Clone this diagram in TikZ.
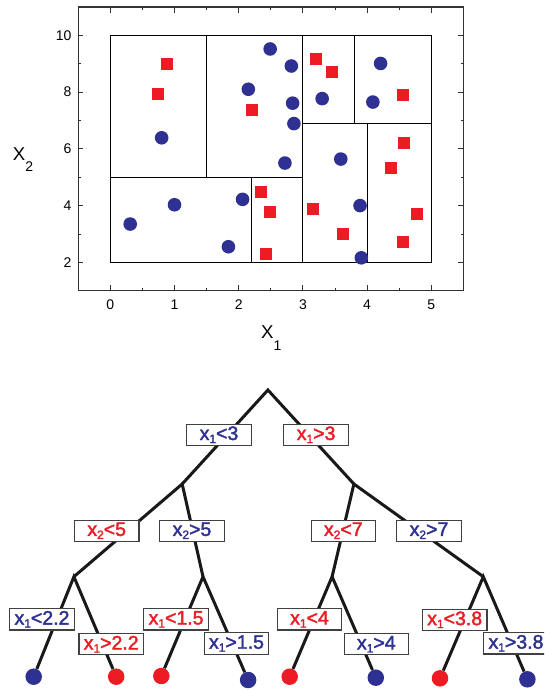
\documentclass[tikz,border=0pt]{standalone}
\usepackage{fontspec}
\setmainfont{Liberation Sans}
\newfontfamily\condfont[FakeBold=2]{Liberation Sans}
\usetikzlibrary{arrows.meta, positioning, calc}

\definecolor{dotblue}{RGB}{46,49,146}
\definecolor{dotred}{RGB}{237,28,36}

% x with a small lowered index
\newcommand{\xsub}[1]{x\raisebox{-3pt}{\fontsize{12}{12}\selectfont #1}}
\newcommand{\axsub}[1]{X\raisebox{-11.7pt}{\fontsize{14}{14}\selectfont #1}}

\begin{document}
\begin{tikzpicture}[
    x=1pt, y=-1pt,
    cond/.style={draw=black!75, fill=white, line width=1.1pt, minimum width=64.5pt,
                 minimum height=21.3pt, inner sep=0pt, font=\condfont\fontsize{19.5}{20}\selectfont},
    branch/.style={line width=3pt, color=black!90},
    leaf/.style={circle, minimum size=16.5pt, inner sep=0pt},
    part/.style={line width=1pt, color=black},
    tickmark/.style={line width=0.9pt, color=black!80},
    ticklabel/.style={inner sep=0pt, font=\fontsize{14}{14}\selectfont},
    axistitle/.style={inner sep=0pt, font=\fontsize{18.6}{20}\selectfont},
]
\useasboundingbox (0,0) rectangle (544,690);
\clip (0,0) rectangle (544,690);

% ---------- scatter plot ----------
\begin{scope}[shift={(110.3,319.1)}, x=64.2pt, y=28.375pt]
  \draw[line width=1.1pt, black!80] (-0.5,1) rectangle (5.5,11);
  \foreach \x in {0,...,5} {
    \draw[tickmark] (\x,1) -- ++(0,6pt);
    \draw[tickmark] (\x,11) -- ++(0,-6pt);
    \node[ticklabel, anchor=north, yshift=-8.5pt] (xt\x) at (\x,1) {\x};
  }
  \foreach \x in {0.5,1.5,...,4.5} {
    \draw[tickmark] (\x,1) -- ++(0,3pt);
    \draw[tickmark] (\x,11) -- ++(0,-3pt);
  }
  \foreach \y in {2,4,...,10} {
    \draw[tickmark] (-0.5,\y) -- ++(5pt,0);
    \draw[tickmark] (5.5,\y) -- ++(-5pt,0);
    \node[ticklabel, anchor=east, xshift=-6.5pt] (yt\y) at (-0.5,\y) {\y};
  }
  \foreach \y in {3,5,7,9} {
    \draw[tickmark] (-0.5,\y) -- ++(2.5pt,0);
    \draw[tickmark] (5.5,\y) -- ++(-2.5pt,0);
  }

  % regions
  \draw[part] (0,2) rectangle (5,10);
  \draw[part] (3,2) -- (3,10);
  \draw[part] (0,5) -- (3,5);
  \draw[part] (1.5,5) -- (1.5,10);
  \draw[part] (2.2,2) -- (2.2,5);
  \draw[part] (3,6.9) -- (5,6.9);
  \draw[part] (3.8,6.9) -- (3.8,10);
  \draw[part] (4,2) -- (4,6.9);

  % samples
  \foreach \px/\py in {0.88/8.98, 0.74/7.94, 2.20/7.36, 3.21/9.15, 3.45/8.70,
                       4.56/7.90, 4.57/6.19, 4.37/5.32, 4.77/3.71, 4.56/2.73,
                       3.63/3.01, 3.16/3.88, 2.35/4.48, 2.48/3.78, 2.42/2.30}
    \fill[dotred] ([shift={(-6pt,-6pt)}]\px,\py) rectangle ++(12pt,12pt);
  \foreach \px/\py in {0.80/6.39, 2.49/9.52, 2.82/8.92, 2.15/8.10, 2.84/7.61,
                       2.86/6.89, 2.72/5.50, 3.30/7.77, 4.21/9.01, 4.09/7.65,
                       3.59/5.64, 3.89/4.00, 3.91/2.16, 0.31/3.35, 1.00/4.03,
                       2.06/4.22, 1.84/2.55}
    \fill[dotblue] (\px,\py) circle[radius=6.8pt];
\end{scope}

\node[axistitle, anchor=base west] (xtitle) at (261,338.3) {\axsub{1}};
\node[axistitle, anchor=base west] (ytitle) at (12.7,160) {\axsub{2}};

% ---------- decision tree ----------
\node[leaf, fill=dotblue] (lf1) at (33.7,676.7) {};
\node[leaf, fill=dotred]  (lf2) at (116.2,676.7) {};
\node[leaf, fill=dotred]  (lf3) at (161.3,676) {};
\node[leaf, fill=dotblue] (lf4) at (248.1,680) {};
\node[leaf, fill=dotred]  (lf5) at (289.7,676.7) {};
\node[leaf, fill=dotblue] (lf6) at (375.8,677.7) {};
\node[leaf, fill=dotred]  (lf7) at (440,678.3) {};
\node[leaf, fill=dotblue] (lf8) at (527.4,679.3) {};

\coordinate (root) at (267.9,390);
\coordinate (nl)  at (182.2,484);
\coordinate (nr)  at (353.9,484);
\coordinate (nll) at (73.9,576.7);
\coordinate (nlr) at (203,576.7);
\coordinate (nrl) at (332.1,576.7);
\coordinate (nrr) at (483.3,576.7);

\draw[branch] (nl) -- (root) -- (nr);
\draw[branch] (nll) -- (nl) -- (nlr);
\draw[branch] (nrl) -- (nr) -- (nrr);
\draw[branch] (lf1) -- (nll) -- (lf2);
\draw[branch] (lf3) -- (nlr) -- (lf4);
\draw[branch] (lf5) -- (nrl) -- (lf6);
\draw[branch] (lf7) -- (nrr) -- (lf8);

% split conditions
\node[cond, text=dotblue] (c1)  at (219,434.7)   {\xsub{1}<3};
\node[cond, text=dotred]  (c2)  at (316.1,434.7) {\xsub{1}>3};
\node[cond, text=dotred]  (c3)  at (106.7,530.7) {\xsub{2}<5};
\node[cond, text=dotblue] (c4)  at (192,530.7)   {\xsub{2}>5};
\node[cond, text=dotred]  (c5)  at (343.3,530.7) {\xsub{2}<7};
\node[cond, text=dotblue] (c6)  at (429,530.7)   {\xsub{2}>7};
\node[cond, text=dotblue] (c7)  at (42,619.3)    {\xsub{1}<2.2};
\node[cond, text=dotred]  (c8)  at (111.2,644.2) {\xsub{1}>2.2};
\node[cond, text=dotred]  (c9)  at (176.1,619.3) {\xsub{1}<1.5};
\node[cond, text=dotblue] (c10) at (236.5,643.5) {\xsub{1}>1.5};
\node[cond, text=dotred]  (c11) at (309.5,619.3) {\xsub{1}<4};
\node[cond, text=dotblue] (c12) at (376.3,644.2) {\xsub{1}>4};
\node[cond, text=dotred]  (c13) at (454.7,619.8) {\xsub{1}<3.8};
\node[cond, text=dotblue] (c14) at (516,643.3)   {\xsub{1}>3.8};

\end{tikzpicture}
\end{document}
